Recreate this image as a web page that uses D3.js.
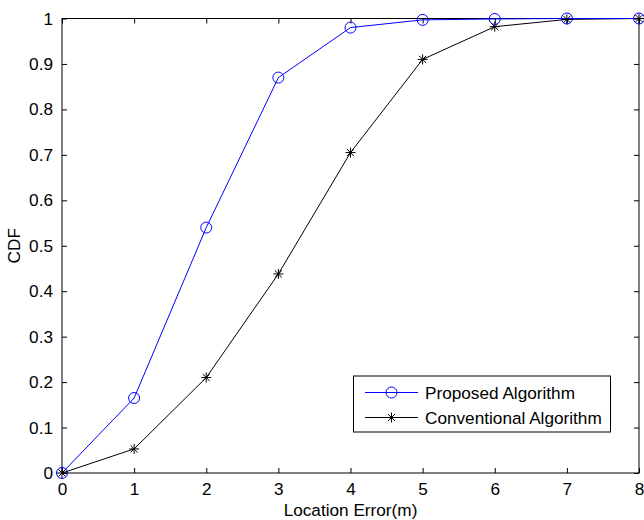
<!DOCTYPE html>
<html><head><meta charset="utf-8">
<script src="https://cdn.jsdelivr.net/npm/d3@7/dist/d3.min.js"></script>
<style>body{margin:0;background:#fff}text{font-family:"Liberation Sans",Arial,sans-serif}</style>
</head><body><svg id="c" width="644" height="520"></svg>
<script>
const xValues = [0,1,2,3,4,5,6,7,8];
const proposed = [0,0.165,0.54,0.87,0.98,0.997,0.999,1,1];
const conventional = [0,0.053,0.21,0.438,0.705,0.91,0.982,0.998,1];
const xTicks = [0,1,2,3,4,5,6,7,8];
const yTicks = [0,0.1,0.2,0.3,0.4,0.5,0.6,0.7,0.8,0.9,1];
const seriesNames = ["Proposed Algorithm","Conventional Algorithm"];

const svg = d3.select("#c");
const L=62,R=639,T=18.5,B=473;
const x = d3.scaleLinear().domain([0,8]).range([L,R]);
const y = d3.scaleLinear().domain([0,1]).range([B,T]);
const fs = 17.2;

const gx = svg.append("g").attr("transform",`translate(0,${B})`)
  .call(d3.axisBottom(x).tickValues(xTicks).tickFormat(d3.format("d")).tickSizeInner(-5).tickSizeOuter(0).tickPadding(10));
const gxt = svg.append("g").attr("transform",`translate(0,${T})`)
  .call(d3.axisTop(x).tickValues(xTicks).tickFormat("").tickSizeInner(-5).tickSizeOuter(0));
const gy = svg.append("g").attr("transform",`translate(${L},0)`)
  .call(d3.axisLeft(y).tickValues(yTicks).tickFormat(d=>d===0?"0":d===1?"1":d3.format(".1f")(d)).tickSizeInner(-5).tickSizeOuter(0).tickPadding(9));
const gyr = svg.append("g").attr("transform",`translate(${R},0)`)
  .call(d3.axisRight(y).tickValues(yTicks).tickFormat("").tickSizeInner(-5).tickSizeOuter(0));
[gx,gxt,gy,gyr].forEach(g=>{
  g.select(".domain").remove();
  g.selectAll("line").attr("stroke","#000");
  g.selectAll("text").attr("fill","#000").style("font-size",fs+"px");
});
svg.append("rect").attr("x",L).attr("y",T).attr("width",R-L).attr("height",B-T)
  .attr("fill","none").attr("stroke","#000").attr("stroke-width",1);

const line = d3.line().x((d,i)=>x(xValues[i])).y(d=>y(d));

function star(g,cx,cy,r,color){
  const p=[];
  for(let k=0;k<4;k++){const a=k*Math.PI/4;p.push(`M${cx-r*Math.cos(a)},${cy-r*Math.sin(a)}L${cx+r*Math.cos(a)},${cy+r*Math.sin(a)}`);}
  g.append("path").attr("d",p.join("")).attr("stroke",color).attr("stroke-width",1).attr("fill","none");
}

svg.append("path").datum(conventional).attr("d",line).attr("fill","none").attr("stroke","#000").attr("stroke-width",1);
svg.append("path").datum(proposed).attr("d",line).attr("fill","none").attr("stroke","#0000ff").attr("stroke-width",1);
const gm = svg.append("g");
conventional.forEach((d,i)=>star(gm,x(xValues[i]),y(d),5,"#000"));
gm.selectAll("circle").data(proposed).enter().append("circle")
  .attr("cx",(d,i)=>x(xValues[i])).attr("cy",d=>y(d)).attr("r",5.5)
  .attr("fill","none").attr("stroke","#0000ff").attr("stroke-width",1);

svg.append("text").attr("x",(L+R)/2).attr("y",516).attr("text-anchor","middle").style("font-size",fs+"px").text("Location Error(m)");
svg.append("text").attr("transform",`translate(20,${(T+B)/2}) rotate(-90)`).attr("text-anchor","middle").style("font-size",fs+"px").text("CDF");

const lg = svg.append("g");
lg.append("rect").attr("x",353.5).attr("y",376).attr("width",257).attr("height",56).attr("fill","#fff").attr("stroke","#000");
const colors=["#0000ff","#000"];
seriesNames.forEach((n,i)=>{
  const yy = 392.5+i*25;
  lg.append("line").attr("x1",365).attr("x2",418).attr("y1",yy).attr("y2",yy).attr("stroke",colors[i]);
  if(i===0) lg.append("circle").attr("cx",391.5).attr("cy",yy).attr("r",5.5).attr("fill","none").attr("stroke",colors[i]);
  else star(lg,391.5,yy,5,"#000");
  lg.append("text").attr("x",425).attr("y",yy+6).style("font-size",fs+"px").text(n);
});
</script></body></html>
